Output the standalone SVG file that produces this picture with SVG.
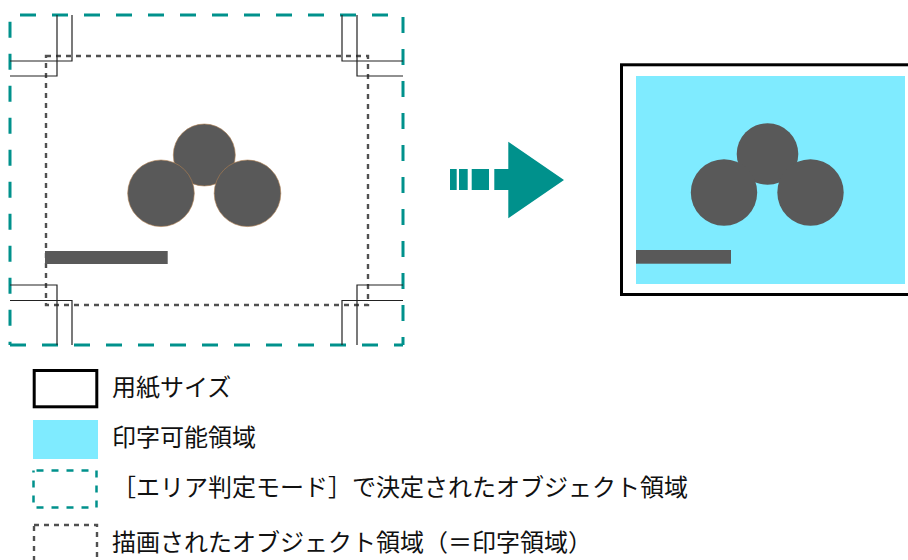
<svg xmlns="http://www.w3.org/2000/svg" width="908" height="560" viewBox="0 0 908 560">
<style>
.teal{stroke:#00918C;fill:none;stroke-width:3;stroke-dasharray:16 16}
.dot{stroke:#505050;fill:none;stroke-width:2.4;stroke-dasharray:5 5}
.crop{stroke:#222;fill:none;stroke-width:1.2}
.obj{fill:#595959}
.objL{fill:#595959;stroke:#b08050;stroke-width:0.6}
.lbl{font-family:"Noto Sans CJK JP","Noto Sans",sans-serif;font-size:24px;fill:#111}
</style>
<rect width="908" height="560" fill="#fff"/>
<g id="object-area">
<line class="teal" x1="10" y1="15" x2="403" y2="15" stroke-dashoffset="22"/>
<line class="teal" x1="403" y1="15" x2="403" y2="345" stroke-dashoffset="30"/>
<line class="teal" x1="10" y1="345" x2="403" y2="345" stroke-dashoffset="0"/>
<line class="teal" x1="10" y1="15" x2="10" y2="345" stroke-dashoffset="25.3"/>
<rect class="dot" x="46" y="56" width="322" height="249"/>
<path class="crop" d="M10,61H72V15M10,76H57V15M403,61H342V15M403,76H357V15M10,285H57V345M10,300.5H72V345M403,285H357V345M403,300.5H342V345"/>
<circle class="objL" cx="204.3" cy="155" r="31"/>
<circle class="objL" cx="161" cy="193.3" r="33.3"/>
<circle class="objL" cx="247.5" cy="193.3" r="33.3"/>
<rect class="obj" x="45" y="251" width="122.7" height="13"/>
</g>
<g id="connectors">
<rect fill="#00918C" x="450" y="169" width="6.7" height="21"/>
<rect fill="#00918C" x="459" y="169" width="8.7" height="21"/>
<rect fill="#00918C" x="471.7" y="169" width="17.3" height="21"/>
<path fill="#00918C" d="M494.3,169H508.3V141.7L564,180L508.3,218.3V190H494.3Z"/>
</g>
<g id="printed-paper">
<rect x="621.5" y="64.8" width="300" height="229.7" fill="#fff" stroke="#000" stroke-width="3"/>
<rect x="636" y="76" width="269" height="208" fill="#7FEBFF"/>
<circle class="obj" cx="767.5" cy="154" r="30.8"/>
<circle class="obj" cx="724" cy="192.5" r="33.2"/>
<circle class="obj" cx="810.5" cy="192.5" r="33.2"/>
<rect class="obj" x="636" y="250" width="95" height="13.7"/>
</g>
<g id="legend-paper">
<rect x="34.2" y="370.5" width="62.6" height="36.3" fill="#fff" stroke="#000" stroke-width="3"/>
<text class="lbl" x="112" y="396">用紙サイズ</text>
</g>
<g id="legend-printable">
<rect x="33" y="420" width="65" height="39" fill="#7FEBFF"/>
<text class="lbl" x="112" y="446">印字可能領域</text>
</g>
<g id="legend-area-mode">
<rect x="33.5" y="470.5" width="63" height="37" fill="none" stroke="#00918C" stroke-width="2.5" stroke-dasharray="7 8" stroke-dashoffset="-3"/>
<text class="lbl" x="112" y="496">［エリア判定モード］で決定されたオブジェクト領域</text>
</g>
<g id="legend-drawn">
<rect x="34" y="525" width="63" height="40" fill="none" stroke="#505050" stroke-width="2.4" stroke-dasharray="5 5"/>
<text class="lbl" x="112" y="551">描画されたオブジェクト領域（＝印字領域）</text>
</g>
</svg>
